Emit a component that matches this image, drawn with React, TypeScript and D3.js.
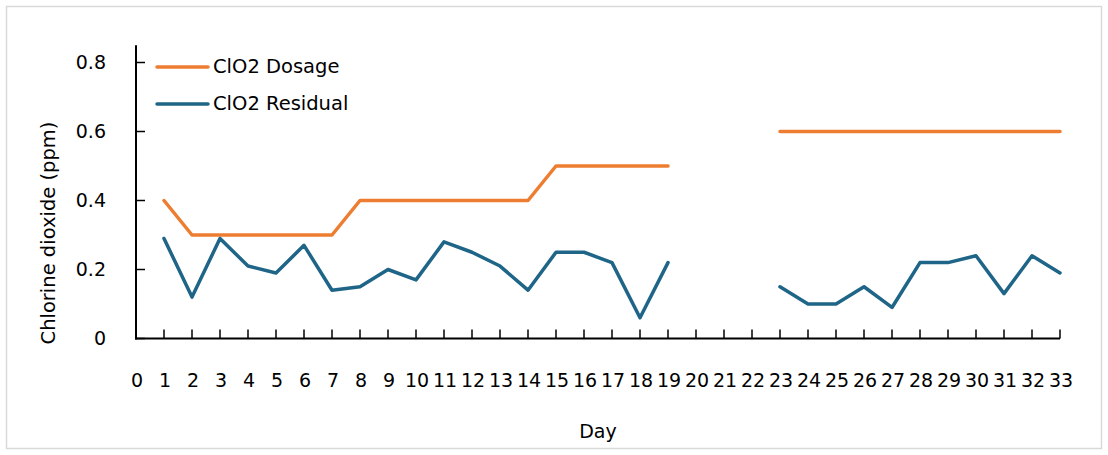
import React from "react";
import * as d3 from "d3";

const days: number[] = d3.range(0, 34);
const dosage: (number | null)[] = [
  null, 0.4, 0.3, 0.3, 0.3, 0.3, 0.3, 0.3, 0.4, 0.4, 0.4, 0.4, 0.4, 0.4, 0.4,
  0.5, 0.5, 0.5, 0.5, 0.5, null, null, null,
  0.6, 0.6, 0.6, 0.6, 0.6, 0.6, 0.6, 0.6, 0.6, 0.6, 0.6,
];
const residual: (number | null)[] = [
  null, 0.29, 0.12, 0.29, 0.21, 0.19, 0.27, 0.14, 0.15, 0.2, 0.17, 0.28, 0.25,
  0.21, 0.14, 0.25, 0.25, 0.22, 0.06, 0.22, null, null, null,
  0.15, 0.1, 0.1, 0.15, 0.09, 0.22, 0.22, 0.24, 0.13, 0.24, 0.19,
];
const yTicks: number[] = [0, 0.2, 0.4, 0.6, 0.8];
const seriesNames: string[] = ["ClO2 Dosage", "ClO2 Residual"];
const seriesColors: string[] = ["#ED7D31", "#1F6587"];

const FONT = "DejaVu Sans, sans-serif";

export default function App() {
  const x = d3.scaleLinear().domain([0, 33]).range([136, 1060]);
  const y = d3.scaleLinear().domain([0, 0.8]).range([338.5, 62.5]);
  const line = d3
    .line<number | null>()
    .defined((d) => d !== null)
    .x((_, i) => x(days[i]))
    .y((d) => y(d as number));
  const series = [dosage, residual];

  return (
    <div style={{ position: "absolute", left: 0, top: 0 }}>
      <svg width={1108} height={455} style={{ display: "block" }}>
        <rect x={0} y={0} width={1108} height={455} fill="#fff" />
        <rect x={6.5} y={6.5} width={1095} height={442} fill="#fff" stroke="#d9d9d9" strokeWidth={1.5} />

        {/* y axis */}
        <line x1={x(0)} x2={x(0)} y1={y(0.85)} y2={y(0) + 1} stroke="#000" strokeWidth={2} />
        {yTicks.map((t) => (
          <g key={t}>
            <line x1={x(0)} x2={x(0) + 9} y1={y(t)} y2={y(t)} stroke="#000" strokeWidth={1.5} />
            <text x={106} y={y(t)} dy="0.35em" textAnchor="end" fontFamily={FONT} fontSize={19} fill="#000">
              {t === 0 ? "0" : d3.format(".1f")(t)}
            </text>
          </g>
        ))}

        {/* x axis */}
        <line x1={x(0) - 1} x2={x(33)} y1={y(0)} y2={y(0)} stroke="#000" strokeWidth={2} />
        {days.map((d) => (
          <g key={d}>
            {d > 0 && (
              <line x1={x(d)} x2={x(d)} y1={y(0)} y2={y(0) - 9} stroke="#000" strokeWidth={1.5} />
            )}
            <text x={x(d) + 1} y={380} dy="0.35em" textAnchor="middle" fontFamily={FONT} fontSize={19} fill="#000">
              {d}
            </text>
          </g>
        ))}

        {/* lines */}
        {series.map((s, i) => (
          <path
            key={i}
            d={line(s) || ""}
            fill="none"
            stroke={seriesColors[i]}
            strokeWidth={3.5}
            strokeLinejoin="round"
            strokeLinecap="round"
          />
        ))}

        {/* legend */}
        {seriesNames.map((n, i) => (
          <g key={n} transform={`translate(0, ${67 + i * 37})`}>
            <line x1={157} x2={208} y1={0} y2={0} stroke={seriesColors[i]} strokeWidth={3.5} strokeLinecap="round" />
            <text x={213} y={-1} dy="0.35em" fontFamily={FONT} fontSize={19.5} fill="#000">
              {n}
            </text>
          </g>
        ))}

        {/* axis titles */}
        <text x={598} y={431} dy="0.35em" textAnchor="middle" fontFamily={FONT} fontSize={19} fill="#000">
          Day
        </text>
        <text
          transform={`translate(48, 233) rotate(-90)`}
          dy="0.35em"
          textAnchor="middle"
          fontFamily={FONT}
          fontSize={19.5}
          fill="#000"
        >
          Chlorine dioxide (ppm)
        </text>
      </svg>
    </div>
  );
}
